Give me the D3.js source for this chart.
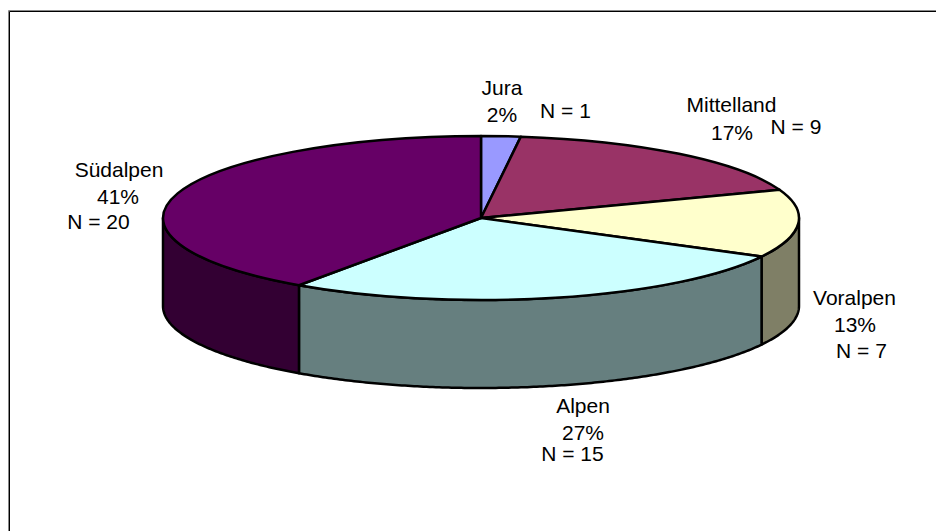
<!DOCTYPE html>
<html><head><meta charset="utf-8">
<script src="https://cdn.jsdelivr.net/npm/d3@7/dist/d3.min.js"></script>
<style>html,body{margin:0;padding:0;background:#fff}svg{display:block}text{font-family:"Liberation Sans",Arial,sans-serif;fill:#000}</style>
</head><body><svg id="c" width="936" height="531"></svg>
<script>
const categories = ["Jura","Mittelland","Voralpen","Alpen","Südalpen"];
const shares = [2.0,17.4,13.4,26.9,40.3];
const percentLabels = ["2%","17%","13%","27%","41%"];
const countLabels = ["N = 1","N = 9","N = 7","N = 15","N = 20"];
const topColors = ["#9999FF","#993366","#FFFFCC","#CCFFFF","#660066"];
const sideColors = ["#4D4D80","#4D1933","#7F7F66","#667F7F","#330033"];

const W=936,H=531,cx=481,cy=218,rx=318,ry=82,depth=88;
const fontSize=21, strokeW=2.5;
// label placement: [name x, name baseline, pct x, pct baseline, N x, N baseline]
const labelPos = [
 [502,95, 502,122, 565.5,118],
 [731.5,112, 732,140, 796,134],
 [854.5,305, 855,332, 861.5,358],
 [583,413, 583,440, 572.5,461],
 [119,177, 118,204, 98.5,229]
];

const svg=d3.select("#c");
// frame: only the top and left edges, black with a grey outer line
[["#888",8.5,10.5],["#000",9.5,11.5]].forEach(([col,x,y])=>{
  svg.append("path").attr("d",`M${x},${H}V${y}H${W}`)
    .attr("fill","none").attr("stroke",col).attr("stroke-width",1);
});

const pie=d3.pie().sort(null).value(d=>d);
const arcs=pie(shares).map((a,i)=>({...a,i}));
const px=t=>cx+rx*Math.sin(t), py=t=>cy-ry*Math.cos(t);
const line=d3.line().curve(d3.curveLinear);

// side walls: the visible (front) part runs from angle PI/2 to 3PI/2
arcs.forEach(a=>{
  const s=Math.max(a.startAngle,Math.PI/2), e=Math.min(a.endAngle,3*Math.PI/2);
  if(e<=s) return;
  const n=Math.ceil((e-s)/0.01);
  const ts=d3.range(n+1).map(k=>s+(e-s)*k/n);
  const upper=ts.map(t=>[px(t),py(t)]);
  const lower=ts.slice().reverse().map(t=>[px(t),py(t)+depth]);
  svg.append("path").attr("d",line(upper.concat(lower))+"Z")
    .attr("fill",sideColors[a.i]).attr("stroke","#000").attr("stroke-width",strokeW).attr("stroke-linejoin","round");
});

// top faces
const arcGen=d3.arc().innerRadius(0).outerRadius(rx);
svg.append("g").attr("transform",`translate(${cx},${cy}) scale(1,${ry/rx})`)
  .selectAll("path").data(arcs).join("path")
  .attr("d",arcGen)
  .attr("fill",d=>topColors[d.i]).attr("stroke","#000").attr("stroke-width",strokeW)
  .attr("stroke-linejoin","round").attr("vector-effect","non-scaling-stroke");

// labels
const tg=svg.append("g").attr("font-size",fontSize).attr("text-anchor","middle");
categories.forEach((c,i)=>{
  const p=labelPos[i];
  tg.append("text").attr("x",p[0]).attr("y",p[1]).text(c);
  tg.append("text").attr("x",p[2]).attr("y",p[3]).text(percentLabels[i]);
  tg.append("text").attr("x",p[4]).attr("y",p[5]).text(countLabels[i]);
});
</script></body></html>
